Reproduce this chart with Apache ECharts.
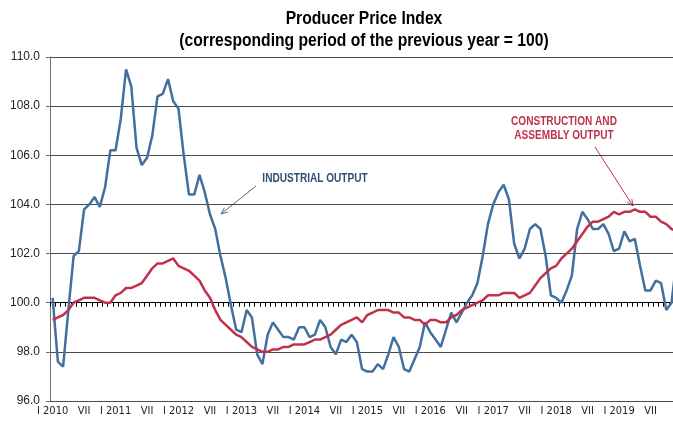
<!DOCTYPE html>
<html>
<head>
<meta charset="utf-8">
<script src="https://cdn.jsdelivr.net/npm/echarts@6/dist/echarts.min.js"></script>
<style>
  html, body { margin: 0; padding: 0; background: #fff; }
  #chart { width: 673px; height: 421px; }
</style>
</head>
<body>
<div id="chart"></div>
<script>
const years = [2010, 2011, 2012, 2013, 2014, 2015, 2016, 2017, 2018, 2019];
const romanMonths = ["I", "II", "III", "IV", "V", "VI", "VII", "VIII", "IX", "X", "XI", "XII"];
const months = years.flatMap((y) => romanMonths.map((m, k) => (k === 0 ? "I " + y : m)));

// industrial output, corresponding month of previous year = 100
const industrial = [
  100.2, 97.6, 97.4, 99.7, 101.9, 102.1, 103.8, 104.0, 104.3, 103.9, 104.7, 106.2,
  106.2, 107.5, 109.5, 108.8, 106.3, 105.6, 105.9, 106.8, 108.4, 108.5, 109.1, 108.2,
  107.9, 106.0, 104.4, 104.4, 105.2, 104.5, 103.6, 103.0, 101.9, 101.0, 99.9, 98.9,
  98.8, 99.7, 99.4, 97.9, 97.5, 98.7, 99.2, 98.9, 98.6, 98.6, 98.5, 99.0,
  99.0, 98.6, 98.7, 99.3, 99.0, 98.2, 97.9, 98.5, 98.4, 98.7, 98.4, 97.3,
  97.2, 97.2, 97.5, 97.3, 97.9, 98.6, 98.2, 97.3, 97.2, 97.7, 98.2, 99.2,
  98.8, 98.5, 98.2, 98.9, 99.6, 99.2, 99.6, 100.0, 100.3, 100.8, 101.9, 103.2,
  104.0, 104.5, 104.8, 104.2, 102.4, 101.8, 102.2, 103.0, 103.2, 103.0, 101.9, 100.3,
  100.2, 100.0, 100.5, 101.1, 103.0, 103.7, 103.4, 103.0, 103.0, 103.2, 102.8, 102.1,
  102.2, 102.9, 102.5, 102.6, 101.5, 100.5, 100.5, 100.9, 100.8, 99.7, 100.0, 101.8
];

// construction and assembly output
const construction = [
  99.3, 99.4, 99.5, 99.7, 100.0, 100.1, 100.2, 100.2, 100.2, 100.1, 100.0, 100.0,
  100.3, 100.4, 100.6, 100.6, 100.7, 100.8, 101.1, 101.4, 101.6, 101.6, 101.7, 101.8,
  101.5, 101.4, 101.3, 101.1, 100.9, 100.5, 100.2, 99.7, 99.3, 99.1, 98.9, 98.7,
  98.6, 98.4, 98.2, 98.1, 98.0, 98.0, 98.1, 98.1, 98.2, 98.2, 98.3, 98.3,
  98.3, 98.4, 98.5, 98.5, 98.6, 98.7, 98.9, 99.1, 99.2, 99.3, 99.4, 99.2,
  99.5, 99.6, 99.7, 99.7, 99.7, 99.6, 99.6, 99.4, 99.4, 99.3, 99.3, 99.1,
  99.3, 99.3, 99.2, 99.2, 99.4, 99.5, 99.7, 99.8, 99.9, 100.0, 100.1, 100.3,
  100.3, 100.3, 100.4, 100.4, 100.4, 100.2, 100.3, 100.4, 100.7, 101.0, 101.2, 101.4,
  101.5, 101.8, 102.0, 102.2, 102.5, 102.8, 103.1, 103.3, 103.3, 103.4, 103.5, 103.7,
  103.6, 103.7, 103.7, 103.8, 103.7, 103.7, 103.5, 103.5, 103.3, 103.2, 103.0, 102.9
];

const yTicks = { min: 96, max: 110, step: 2 };

const sans = "'Liberation Sans', Arial, sans-serif";
const narrow = "'Liberation Sans Narrow', 'Arial Narrow', 'DejaVu Sans Condensed', 'Liberation Sans', sans-serif";
const BLUE = "#41709e";
const RED = "#c0314b";

// small v-shaped arrow head at (x2, y2)
function arrow(x1, y1, x2, y2, color) {
  const a = Math.atan2(y2 - y1, x2 - x1);
  const L = 7, w = 0.4;
  return [
    { type: "line", shape: { x1, y1, x2, y2 }, style: { stroke: color, lineWidth: 1 } },
    {
      type: "polyline",
      shape: {
        points: [
          [x2 - L * Math.cos(a - w), y2 - L * Math.sin(a - w)],
          [x2, y2],
          [x2 - L * Math.cos(a + w), y2 - L * Math.sin(a + w)]
        ]
      },
      style: { stroke: color, lineWidth: 1, fill: null }
    }
  ];
}

// condensed text: regular font squeezed horizontally
function label(x, y, text, size, color, squeeze) {
  return {
    type: "text",
    x, y,
    scaleX: squeeze,
    style: {
      text,
      font: "bold " + size + "px " + sans,
      fill: color,
      align: "center",
      verticalAlign: "top",
      lineHeight: Math.round(size * 1.2)
    }
  };
}

const chart = echarts.init(document.getElementById("chart"), null, { renderer: "canvas" });

const gridW = months.length * 5.245;

chart.setOption({
  animation: false,
  backgroundColor: "#fff",
  grid: [
    { left: 50, top: 57, width: gridW, height: 344, outerBoundsMode: "none" },
    { left: 50, top: 57, width: gridW, height: 344 * 10 / 14, outerBoundsMode: "none" }
  ],
  xAxis: [
    {
      type: "category",
      gridIndex: 0,
      data: months,
      boundaryGap: true,
      axisLine: { show: false },
      axisTick: { show: false },
      axisLabel: {
        interval: 5,
        margin: 5,
        fontFamily: narrow,
        fontSize: 11,
        color: "#222"
      }
    },
    {
      type: "category",
      gridIndex: 1,
      data: months,
      boundaryGap: true,
      axisLine: { show: true, lineStyle: { color: "#000", width: 1 } },
      axisTick: { show: true, interval: 0, length: 4, lineStyle: { color: "#000" } },
      axisLabel: { show: false }
    }
  ],
  yAxis: [
    {
      type: "value",
      gridIndex: 0,
      min: yTicks.min,
      max: yTicks.max,
      interval: yTicks.step,
      axisLine: { show: true, lineStyle: { color: "#707070" } },
      axisTick: { show: true, length: 4, lineStyle: { color: "#707070" } },
      axisLabel: {
        margin: 10,
        fontFamily: sans,
        fontSize: 12,
        color: "#222",
        formatter: (v) => v.toFixed(1)
      },
      splitLine: { lineStyle: { color: "#4a4a4a", width: 1 } }
    },
    { type: "value", gridIndex: 1, min: 0, max: 1, show: false }
  ],
  series: [
    {
      name: "INDUSTRIAL OUTPUT",
      type: "line",
      data: industrial,
      symbol: "none",
      lineStyle: { color: BLUE, width: 2.5 },
      z: 3
    },
    {
      name: "CONSTRUCTION AND ASSEMBLY OUTPUT",
      type: "line",
      data: construction,
      symbol: "none",
      lineStyle: { color: RED, width: 2.5 },
      z: 4
    }
  ],
  graphic: [
    label(364, 8, "Producer Price Index\n(corresponding period of the previous year = 100)", 18, "#000", 0.87),
    label(315, 172, "INDUSTRIAL OUTPUT", 12, "#2f4f72", 0.84),
    ...arrow(256, 186, 221, 214, BLUE),
    label(564, 115, "CONSTRUCTION AND\nASSEMBLY OUTPUT", 12, RED, 0.84),
    ...arrow(595, 147, 633, 206, RED)
  ]
});
</script>
</body>
</html>
